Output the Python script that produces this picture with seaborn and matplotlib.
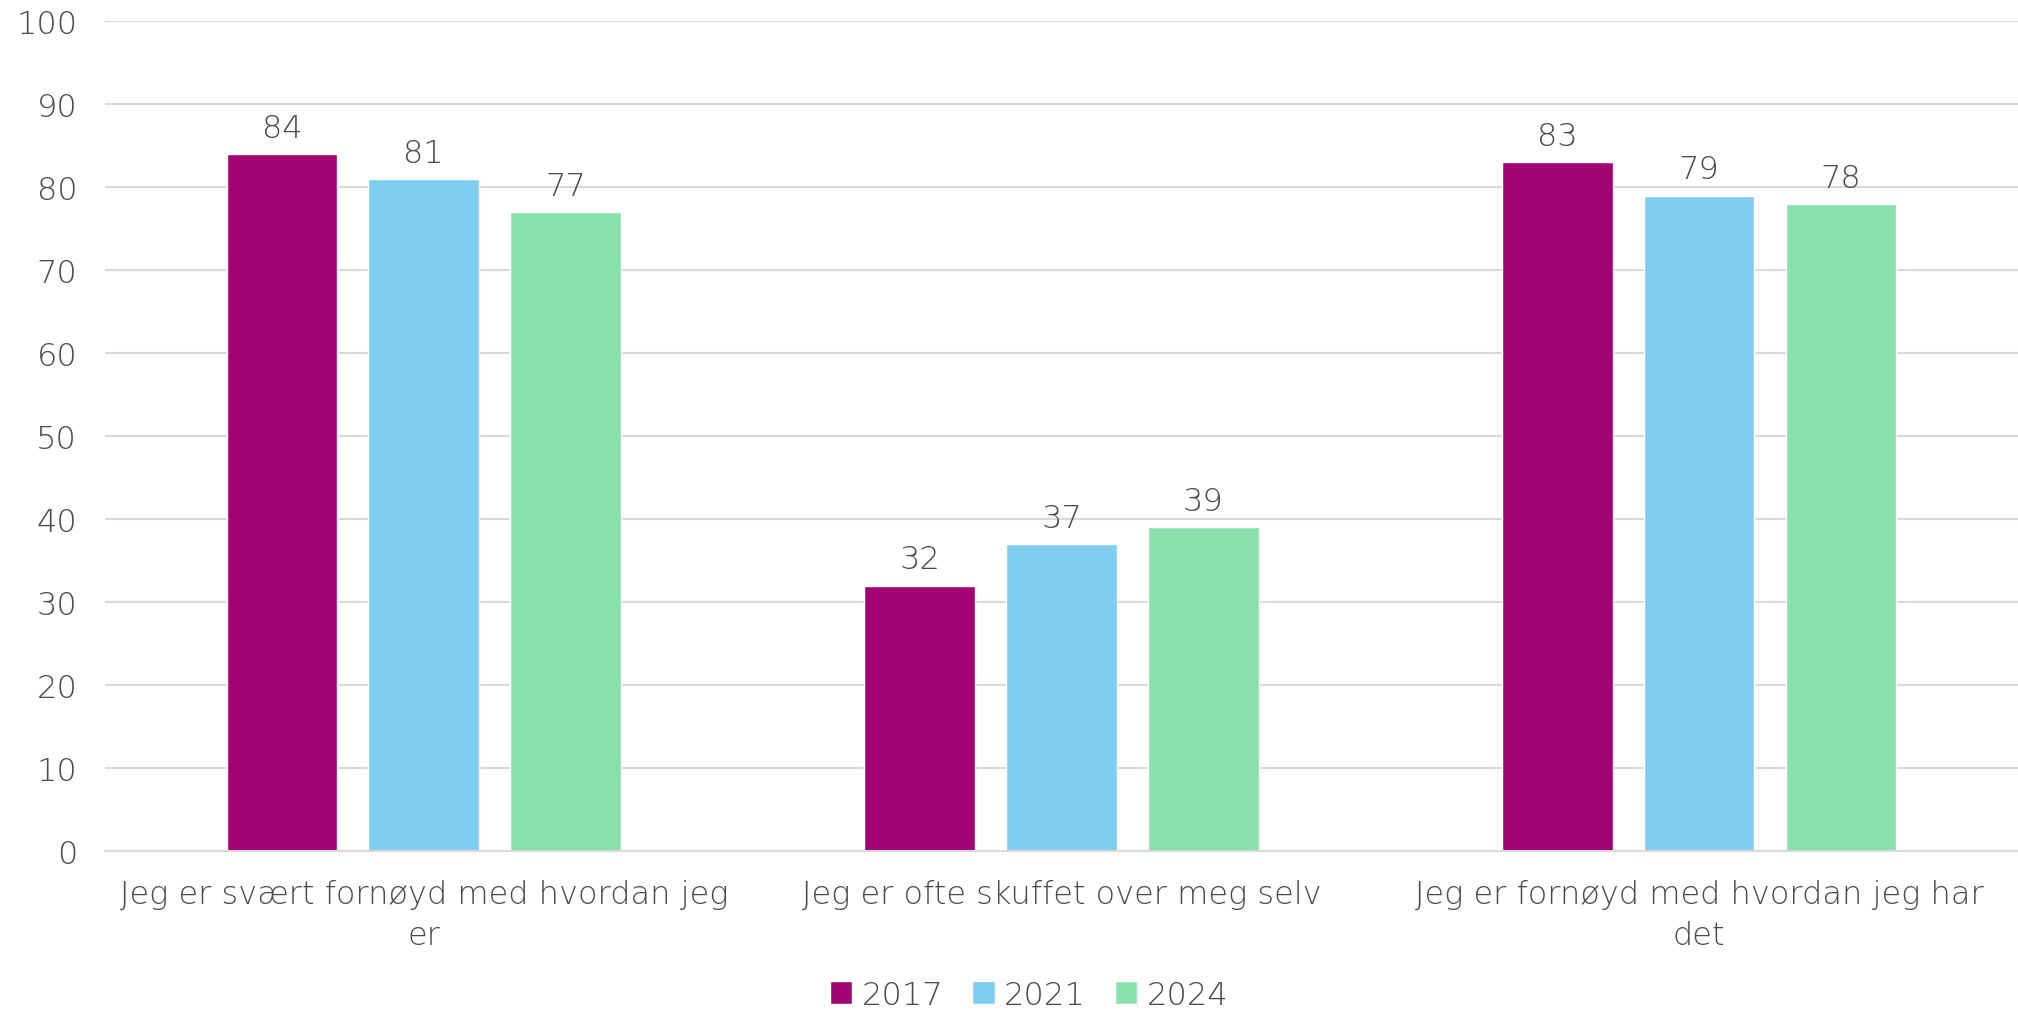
import pandas as pd
import matplotlib.pyplot as plt
import seaborn as sns

# Data
categories = [
    "Jeg er svært fornøyd med hvordan jeg\ner",
    "Jeg er ofte skuffet over meg selv",
    "Jeg er fornøyd med hvordan jeg har\ndet",
]
years = ["2017", "2021", "2024"]
values_2017 = [84, 32, 83]
values_2021 = [81, 37, 79]
values_2024 = [77, 39, 78]
colors = ["#A10472", "#7FCDF1", "#8AE0AB"]

rows = []
for year, vals in zip(years, [values_2017, values_2021, values_2024]):
    for cat, v in zip(categories, vals):
        rows.append({"Kategori": cat, "År": year, "Verdi": v})
df = pd.DataFrame(rows)

sns.set_style("white")
plt.rcParams["font.family"] = ["DejaVu Sans"]
text_color = "#4A4A4A"
fs = 23

fig = plt.figure(figsize=(20.18, 10.12), dpi=100)
ax = fig.add_axes([0.052, 0.158, 0.948, 0.82])

sns.barplot(data=df, x="Kategori", y="Verdi", hue="År", palette=colors,
            width=0.667, gap=0.22, ax=ax, saturation=1)

for c in ax.containers:
    ax.bar_label(c, padding=8, fontsize=fs, color=text_color, fontweight="light")

ax.set_ylim(0, 100)
ax.set_yticks(range(0, 101, 10))
ax.set_xlim(-0.5, 2.5)
ax.yaxis.grid(True, color="#D9D9D9", linewidth=1.5)
ax.set_axisbelow(True)
ax.set_xlabel("")
ax.set_ylabel("")
for s in ["top", "right", "left"]:
    ax.spines[s].set_visible(False)
ax.spines["bottom"].set_color("#D9D9D9")
ax.spines["bottom"].set_linewidth(1.5)
ax.tick_params(axis="both", length=0, labelsize=fs, colors=text_color)
ax.tick_params(axis="y", pad=20)
ax.tick_params(axis="x", pad=20)
for lab in ax.get_xticklabels() + ax.get_yticklabels():
    lab.set_fontweight("light")
for lab in ax.get_xticklabels():
    lab.set_linespacing(1.45)

handles, labels = ax.get_legend_handles_labels()
ax.get_legend().remove()
fig.legend(handles, labels, loc="center", bbox_to_anchor=(0.51, 0.016),
           ncol=3, frameon=False, handlelength=0.7, handleheight=0.7,
           handletextpad=0.3, columnspacing=0.9, labelcolor=text_color,
           prop={"weight": "light", "size": fs})

fig.savefig("out.png", dpi=100, facecolor="white")
